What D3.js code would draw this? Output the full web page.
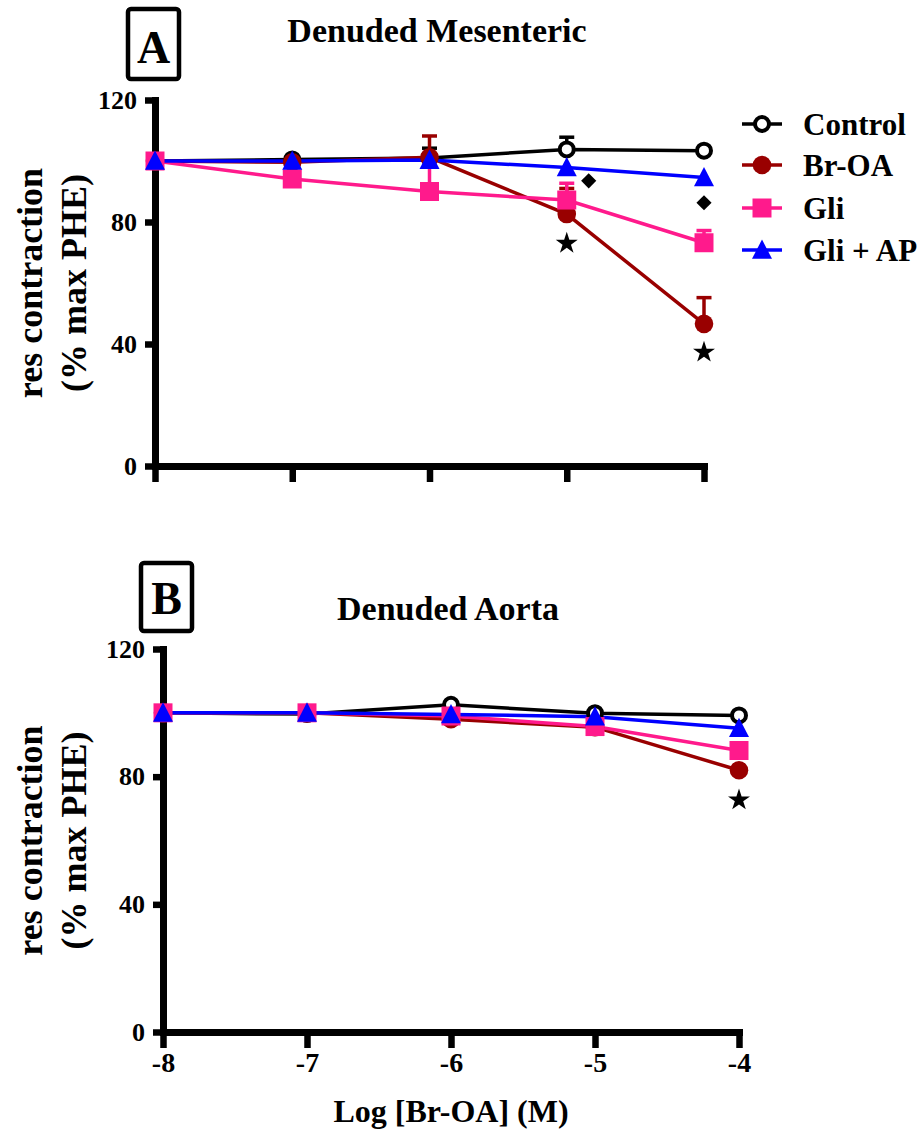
<!DOCTYPE html>
<html>
<head>
<meta charset="utf-8">
<script src="https://cdn.jsdelivr.net/npm/d3@7"></script>
<style>
  body { margin: 0; background: #fff; }
  text { font-family: "Liberation Serif", "Times New Roman", serif; font-weight: bold; fill: #000; }
</style>
</head>
<body>
<svg id="chart" width="922" height="1136"></svg>
<script>
// doses (log M) and series
var doses = [-8, -7, -6, -5, -4];
var seriesNames = ["Control", "Br-OA", "Gli", "Gli + AP"];
var seriesColors = ["#000000", "#990000", "#ff1a8c", "#0000ff"];
var yTicks = [0, 40, 80, 120];

// panel A: denuded mesenteric
var mesControl = [100, 100.5, 101, 103.8, 103.4];
var mesControlErr = [0, 0, 3.2, 4, 0];
var mesBrOA = [100, 99.6, 101.2, 82.6, 46.6];
var mesBrOAErr = [0, 0, 7, 8.4, 8.6];
var mesGli = [100, 94.1, 90, 87.2, 73.2];
var mesGliErr = [0, 0, 8, 5.5, 4];
var mesGliAP = [100, 100, 100.3, 97.9, 94.6];
var mesGliAPErr = [0, 0, 0, 0, 0];
var mesStarX = [-5, -4];
var mesStarY = [73, 37.3];
var mesDiamondX = [-4.84, -4];
var mesDiamondY = [93.5, 86.3];

// panel B: denuded aorta
var aorControl = [100, 99.6, 102.5, 99.9, 99.2];
var aorBrOA = [100, 100, 98, 95.5, 82];
var aorGli = [100, 100, 99, 95.7, 88.2];
var aorGliAP = [100, 100, 99.5, 98.8, 95.2];
var aorErr = [0, 0, 0, 0, 0];
var aorStarX = [-4];
var aorStarY = [72.7];

var FONT = '"Liberation Serif", "Times New Roman", serif';
var svg = d3.select("#chart");

function markerPath(i) {
  if (i === 2) return "M-9.5,-9.5H9.5V9.5H-9.5Z";
  return "M0,-10.5L10,8.8H-10Z";
}

function drawMarker(g, i, px, py) {
  if (i === 0) {
    g.append("circle").attr("cx", px).attr("cy", py).attr("r", 7)
      .attr("fill", "#fff").attr("stroke", seriesColors[i]).attr("stroke-width", 4);
  } else if (i === 1) {
    g.append("circle").attr("cx", px).attr("cy", py).attr("r", 9.3)
      .attr("fill", seriesColors[i]);
  } else {
    g.append("path").attr("d", markerPath(i))
      .attr("transform", "translate(" + px + "," + py + ")")
      .attr("fill", seriesColors[i]);
  }
}

function drawPanel(cfg) {
  var x = d3.scaleLinear().domain([-8, -4]).range(cfg.xRange);
  var y = d3.scaleLinear().domain([0, 120]).range(cfg.yRange);
  var g = svg.append("g");

  // axes
  var ya = g.append("g")
    .attr("transform", "translate(" + cfg.xRange[0] + ",0)")
    .call(d3.axisLeft(y).tickValues(yTicks).tickSize(10).tickSizeOuter(0).tickPadding(8));
  var xa = g.append("g")
    .attr("transform", "translate(0," + cfg.yRange[0] + ")")
    .call(d3.axisBottom(x).tickValues(doses).tickSize(16).tickSizeOuter(0).tickPadding(4)
      .tickFormat(cfg.xLabels ? function (d) { return String(d); } : function () { return ""; }));
  [ya, xa].forEach(function (a) {
    a.attr("font-family", FONT);
    a.select(".domain").attr("stroke", "#000").attr("stroke-width", 7).attr("stroke-linecap", "square");
    a.selectAll(".tick line").attr("stroke", "#000").attr("stroke-width", 6.5);
    a.selectAll(".tick text").attr("fill", "#000").style("font-size", "26px");
  });
  xa.selectAll(".tick text").style("font-size", "28px");

  // y label
  var yl = g.append("text")
    .attr("transform", "translate(" + cfg.yLabelX + "," + d3.mean(cfg.yRange) + ") rotate(-90)")
    .attr("text-anchor", "middle").style("font-family", FONT).style("font-size", "36px");
  yl.append("tspan").attr("x", 0).attr("y", 0).text("res contraction");
  yl.append("tspan").attr("x", 0).attr("y", 44).text("(% max PHE)");

  // panel letter box and title
  g.append("rect").attr("x", cfg.box[0]).attr("y", cfg.box[1])
    .attr("width", cfg.box[2]).attr("height", cfg.box[3]).attr("rx", 3)
    .attr("fill", "none").attr("stroke", "#000").attr("stroke-width", 4.5);
  g.append("text").attr("x", cfg.box[0] + cfg.box[2] / 2).attr("y", cfg.letterY)
    .attr("text-anchor", "middle").style("font-family", FONT).style("font-size", "46px").text(cfg.letter);
  g.append("text").attr("x", cfg.titleX).attr("y", cfg.titleY)
    .attr("text-anchor", "middle").style("font-family", FONT).style("font-size", "34px").text(cfg.title);

  // lines
  var line = d3.line().x(function (d) { return x(d[0]); }).y(function (d) { return y(d[1]); });
  cfg.series.forEach(function (vals, i) {
    g.append("path").datum(doses.map(function (d, k) { return [d, vals[k]]; }))
      .attr("d", line).attr("fill", "none")
      .attr("stroke", seriesColors[i]).attr("stroke-width", 3.5);
  });
  // error bars (upper only)
  cfg.errors.forEach(function (errs, i) {
    doses.forEach(function (d, k) {
      if (!errs[k]) return;
      var px = x(d), top = y(cfg.series[i][k] + errs[k]);
      g.append("line").attr("x1", px).attr("x2", px)
        .attr("y1", y(cfg.series[i][k])).attr("y2", top)
        .attr("stroke", seriesColors[i]).attr("stroke-width", 3.5);
      g.append("line").attr("x1", px - 7.5).attr("x2", px + 7.5)
        .attr("y1", top).attr("y2", top)
        .attr("stroke", seriesColors[i]).attr("stroke-width", 3.5);
    });
  });
  // markers
  cfg.series.forEach(function (vals, i) {
    doses.forEach(function (d, k) { drawMarker(g, i, x(d), y(vals[k])); });
  });

  // significance marks
  var star = d3.symbol().type(d3.symbolStar).size(150);
  cfg.starX.forEach(function (sx, k) {
    g.append("path").attr("d", star())
      .attr("transform", "translate(" + x(sx) + "," + y(cfg.starY[k]) + ")");
  });
  var diamond = d3.symbol().type(d3.symbolSquare).size(115);
  (cfg.diamondX || []).forEach(function (dx, k) {
    g.append("path").attr("d", diamond())
      .attr("transform", "translate(" + x(dx) + "," + y(cfg.diamondY[k]) + ") rotate(45)");
  });

  if (cfg.xTitle) {
    g.append("text").attr("x", d3.mean(cfg.xRange)).attr("y", cfg.xTitleY)
      .attr("text-anchor", "middle").style("font-family", FONT).style("font-size", "32px").text(cfg.xTitle);
  }
  return g;
}

drawPanel({
  xRange: [155, 704], yRange: [466, 100],
  series: [mesControl, mesBrOA, mesGli, mesGliAP],
  errors: [mesControlErr, mesBrOAErr, mesGliErr, mesGliAPErr],
  starX: mesStarX, starY: mesStarY, diamondX: mesDiamondX, diamondY: mesDiamondY,
  xLabels: false, yLabelX: 42,
  box: [128, 9, 51, 70], letter: "A", letterY: 63,
  title: "Denuded Mesenteric", titleX: 437, titleY: 42
});

drawPanel({
  xRange: [163, 739], yRange: [1032, 649],
  series: [aorControl, aorBrOA, aorGli, aorGliAP],
  errors: [aorErr, aorErr, aorErr, aorErr],
  starX: aorStarX, starY: aorStarY,
  xLabels: true, yLabelX: 42,
  box: [141, 563, 51, 68], letter: "B", letterY: 614,
  title: "Denuded Aorta", titleX: 448, titleY: 620,
  xTitle: "Log [Br-OA] (M)", xTitleY: 1122
});

// legend
var legend = svg.append("g").selectAll("g")
  .data(seriesNames).enter().append("g")
  .attr("transform", function (d, i) { return "translate(0," + [124, 165, 208, 250][i] + ")"; });
legend.append("line").attr("x1", 742).attr("x2", 782)
  .attr("stroke", function (d, i) { return seriesColors[i]; }).attr("stroke-width", 3.5);
legend.each(function (d, i) { drawMarker(d3.select(this), i, 762, 0); });
legend.append("text").attr("x", 803).attr("dy", "0.35em")
  .style("font-family", FONT).style("font-size", "31px").text(function (d) { return d; });
</script>
</body>
</html>
